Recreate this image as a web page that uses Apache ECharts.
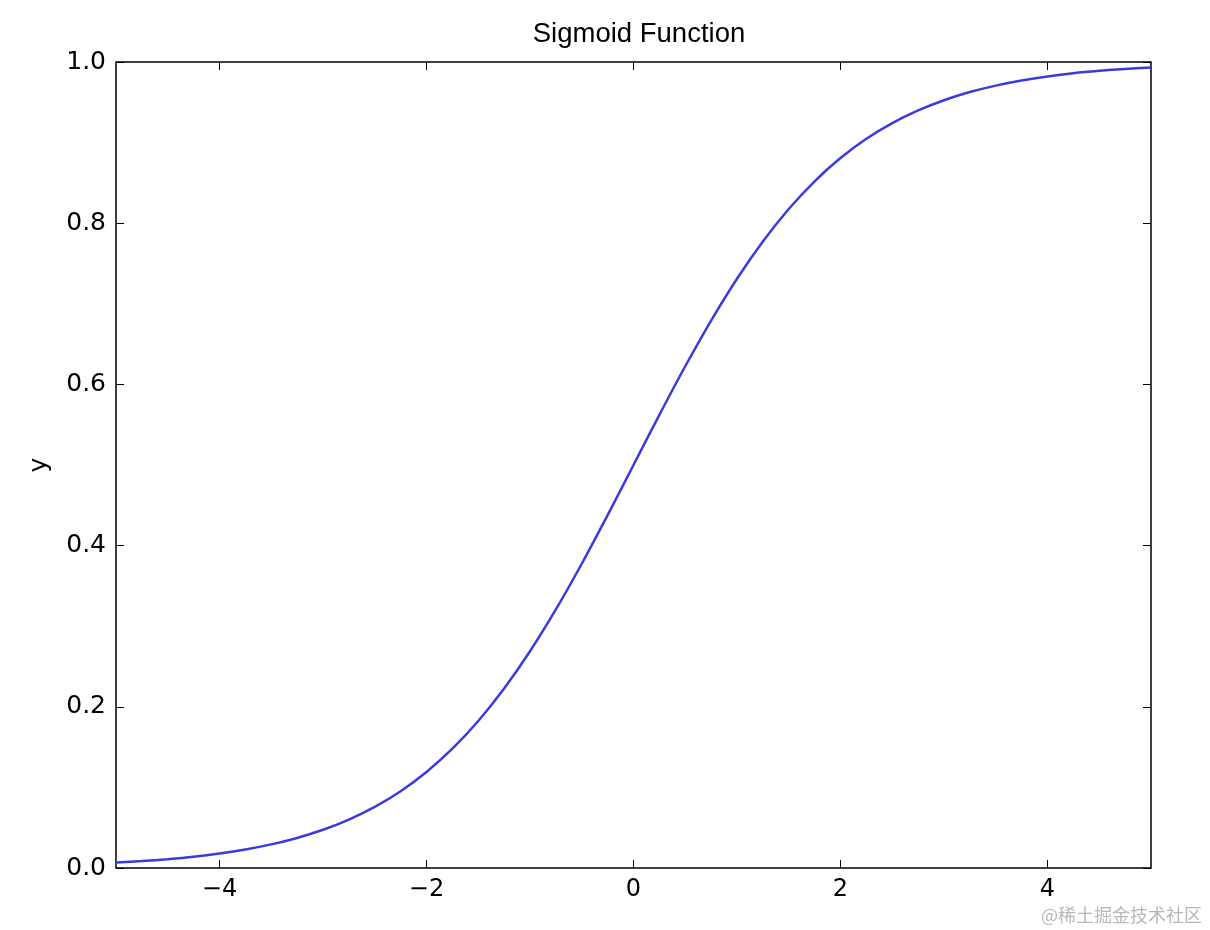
<!DOCTYPE html>
<html>
<head>
<meta charset="utf-8">
<script src="https://cdn.jsdelivr.net/npm/echarts@6/dist/echarts.min.js"></script>
<style>
  html, body { margin: 0; padding: 0; background: #fff; }
  #chart { width: 1210px; height: 930px; }
</style>
</head>
<body>
<div id="chart"></div>
<script>
// x positions and the y values
const xValues = [-5, -4.75, -4.5, -4.25, -4, -3.75, -3.5, -3.25, -3, -2.75, -2.5, -2.25, -2, -1.75, -1.5, -1.25, -1, -0.75, -0.5, -0.25,
  0, 0.25, 0.5, 0.75, 1, 1.25, 1.5, 1.75, 2, 2.25, 2.5, 2.75, 3, 3.25, 3.5, 3.75, 4, 4.25, 4.5, 4.75, 5]
const yValues = [0.0067, 0.0086, 0.0110, 0.0140, 0.0180, 0.0230, 0.0293, 0.0373, 0.0474, 0.0601, 0.0759, 0.0953, 0.1192, 0.1480, 0.1824, 0.2227, 0.2689, 0.3208, 0.3775, 0.4378,
  0.5, 0.5622, 0.6225, 0.6792, 0.7311, 0.7773, 0.8176, 0.8520, 0.8808, 0.9047, 0.9241, 0.9399, 0.9526, 0.9627, 0.9707, 0.9770, 0.9820, 0.9860, 0.9890, 0.9914, 0.9933]
const xTicks = [-4, -2, 0, 2, 4]
const yTicks = [0, 0.2, 0.4, 0.6, 0.8, 1.0]

const labelFont = 'DejaVu Sans'
const fmtX = v => (v < 0 ? '\u2212' + Math.abs(v) : String(v))

const chart = echarts.init(document.getElementById('chart'))

const tickStyle = { show: true, inside: true, length: 8, lineStyle: { color: '#000', width: 1 } }
const noLine = { show: false, onZero: false }

chart.setOption({
  animation: false,
  // title centred over the plot area, not the page
  title: {
    text: 'Sigmoid Function',
    left: 634,
    textAlign: 'center',
    top: 15,
    textStyle: { fontFamily: 'Liberation Sans', fontSize: 27.5, fontWeight: 'normal', color: '#000' }
  },
  grid: {
    left: 116, right: 59, top: 62, bottom: 62,
    show: true, borderColor: '#000', borderWidth: 1.5, backgroundColor: '#fff'
  },
  xAxis: [
    {
      type: 'value', min: -5, max: 5,
      axisLine: noLine,
      splitLine: { show: false },
      axisTick: Object.assign({ customValues: xTicks }, tickStyle),
      axisLabel: {
        customValues: xTicks, formatter: fmtX, margin: 10,
        fontFamily: labelFont, fontSize: 24, color: '#000'
      }
    },
    {
      type: 'value', min: -5, max: 5, position: 'top',
      axisLine: noLine,
      splitLine: { show: false },
      axisTick: Object.assign({ customValues: xTicks }, tickStyle),
      axisLabel: { show: false }
    }
  ],
  yAxis: [
    {
      type: 'value', min: 0, max: 1, interval: 0.2,
      name: 'y', nameLocation: 'middle', nameGap: 64, nameRotate: 90,
      nameTextStyle: { fontFamily: labelFont, fontSize: 25, color: '#000' },
      axisLine: noLine,
      splitLine: { show: false },
      axisTick: Object.assign({ customValues: yTicks }, tickStyle),
      axisLabel: {
        customValues: yTicks, formatter: v => v.toFixed(1), margin: 10,
        fontFamily: labelFont, fontSize: 25, color: '#000'
      }
    },
    {
      type: 'value', min: 0, max: 1, interval: 0.2, position: 'right',
      axisLine: noLine,
      splitLine: { show: false },
      axisTick: Object.assign({ customValues: yTicks }, tickStyle),
      axisLabel: { show: false }
    }
  ],
  series: [
    {
      type: 'line',
      data: xValues.map((x, i) => [x, yValues[i]]),
      showSymbol: false,
      smooth: 0.3,
      lineStyle: { color: '#3b3bdc', width: 2.5 },
      z: 1
    }
  ],
  graphic: [
    {
      type: 'text',
      right: 8,
      bottom: 6,
      style: {
        text: '@稀土掘金技术社区',
        fontFamily: 'Noto Sans CJK SC',
        fontSize: 18,
        fill: '#b8b8b8'
      }
    }
  ]
})
</script>
</body>
</html>
